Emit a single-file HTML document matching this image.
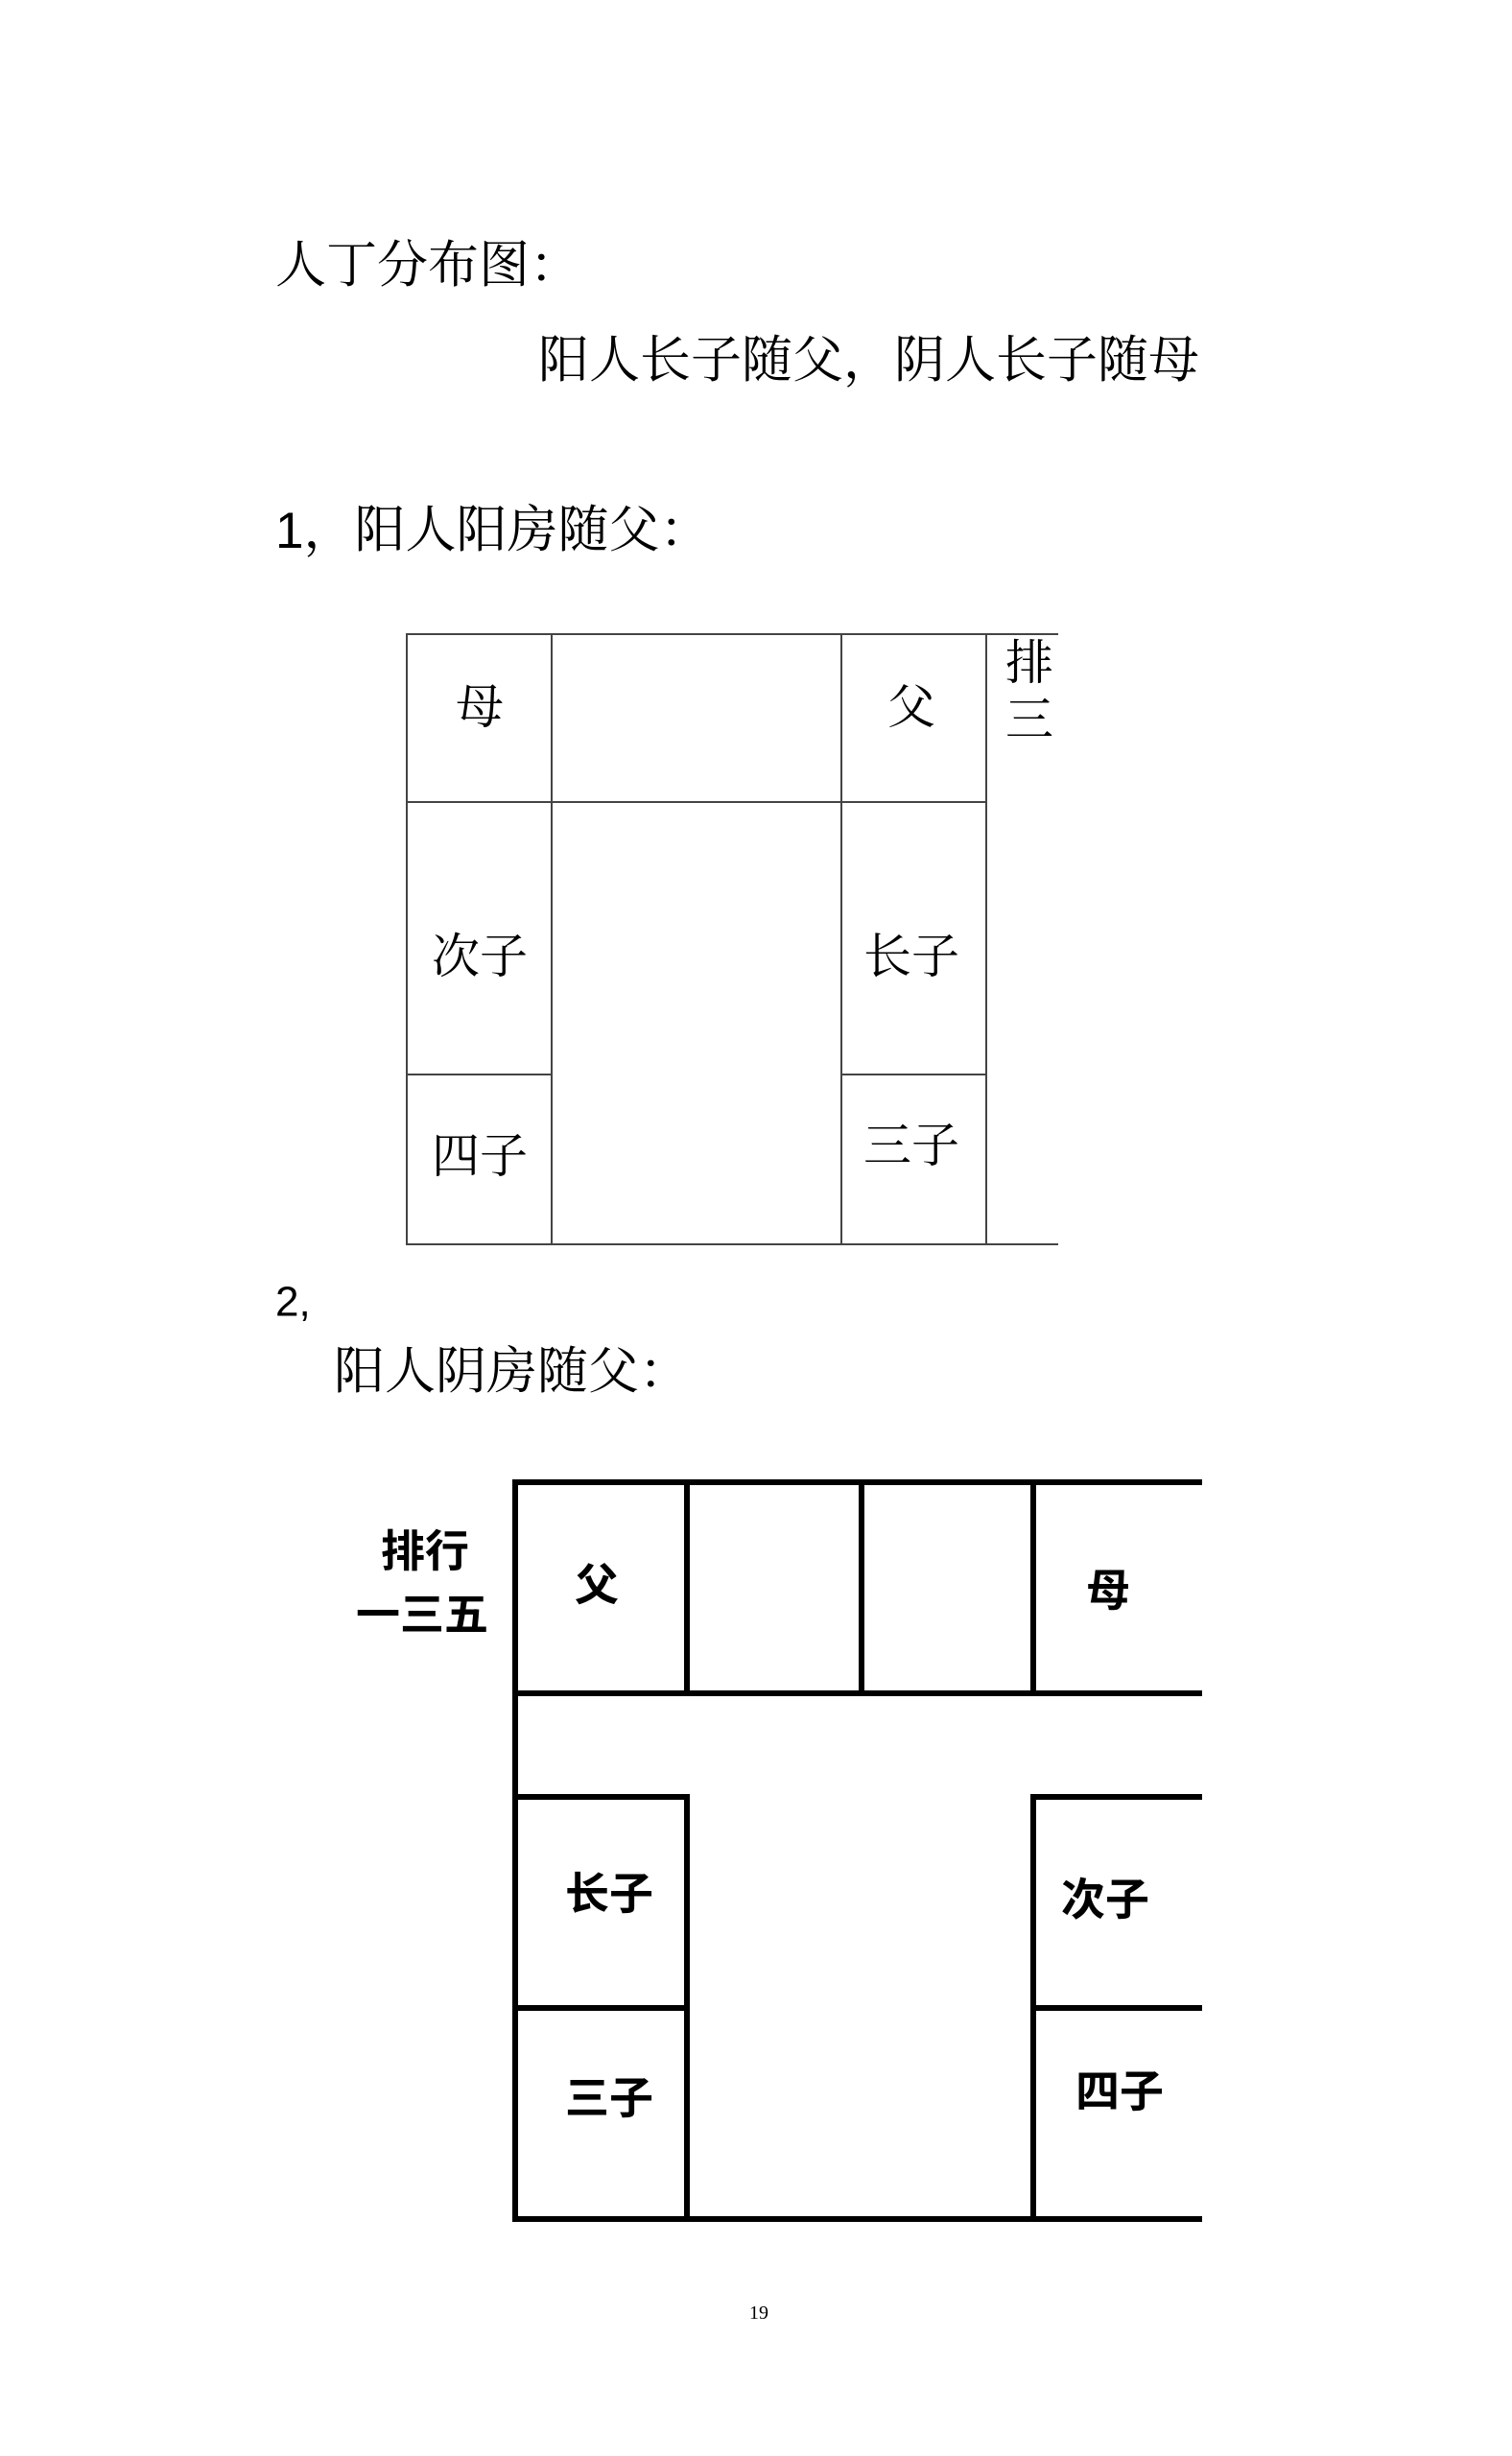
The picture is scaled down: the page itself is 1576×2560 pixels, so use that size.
<!DOCTYPE html>
<html><head><meta charset="utf-8"><style>
html,body{margin:0;padding:0;background:#fff;}
svg{display:block;}
</style></head><body>
<svg width="1576" height="2560" viewBox="0 0 1576 2560" xmlns="http://www.w3.org/2000/svg">
<defs><clipPath id="c1"><rect x="0" y="0" width="1102" height="2560"/></clipPath></defs>
<g font-family="'Liberation Serif','Noto Serif CJK SC',serif" fill="#000" font-size="53">
<text x="287" y="277" dominant-baseline="central">人丁分布图：</text>
<text x="561" y="376" dominant-baseline="central">阳人长子随父，阴人长子随母</text>
<text x="287" y="553" dominant-baseline="central"><tspan font-family="'Liberation Sans','Noto Sans CJK SC',sans-serif">1</tspan>，阳人阳房随父：</text>
<text x="287" y="1357" dominant-baseline="central" font-family="'Liberation Sans',sans-serif" font-size="44">2,</text>
<text x="348" y="1430" dominant-baseline="central">阳人阴房随父：</text>
<text x="791" y="2411" text-anchor="middle" dominant-baseline="central" font-size="20">19</text>
</g>
<!-- table 1 -->
<g stroke="#444" stroke-width="2" fill="none">
<line x1="423" y1="661" x2="1103" y2="661"/>
<line x1="423" y1="1297" x2="1103" y2="1297"/>
<line x1="424" y1="661" x2="424" y2="1297"/>
<line x1="575" y1="661" x2="575" y2="1297"/>
<line x1="877" y1="661" x2="877" y2="1297"/>
<line x1="1028" y1="661" x2="1028" y2="1297"/>
<line x1="423" y1="836" x2="1028" y2="836"/>
<line x1="423" y1="1120" x2="575" y2="1120"/>
<line x1="877" y1="1120" x2="1028" y2="1120"/>
</g>
<g font-family="'Liberation Serif','Noto Serif CJK SC',serif" font-size="50" fill="#000" text-anchor="middle" dominant-baseline="central">
<text x="500" y="737">母</text>
<text x="950" y="737">父</text>
<text x="500" y="997">次子</text>
<text x="950" y="997">长子</text>
<text x="500" y="1205">四子</text>
<text x="950" y="1194">三子</text>
<g clip-path="url(#c1)"><text x="1073" y="691">排</text><text x="1073" y="750">三</text></g>
</g>
<!-- table 2 -->
<g stroke="#000" stroke-width="6" fill="none" stroke-linecap="square">
<line x1="537" y1="1545" x2="1250" y2="1545"/>
<line x1="537" y1="1765" x2="1250" y2="1765"/>
<line x1="537" y1="1545" x2="537" y2="2313"/>
<line x1="537" y1="2313" x2="1250" y2="2313"/>
<line x1="716" y1="1545" x2="716" y2="1765"/>
<line x1="898" y1="1545" x2="898" y2="1765"/>
<line x1="1077" y1="1545" x2="1077" y2="1765"/>
<line x1="537" y1="1873" x2="716" y2="1873"/>
<line x1="716" y1="1873" x2="716" y2="2313"/>
<line x1="537" y1="2093" x2="716" y2="2093"/>
<line x1="1077" y1="1873" x2="1250" y2="1873"/>
<line x1="1077" y1="1873" x2="1077" y2="2313"/>
<line x1="1077" y1="2093" x2="1250" y2="2093"/>
</g>
<g font-family="'Liberation Sans','Noto Sans CJK SC',sans-serif" font-weight="bold" font-size="46" fill="#000" text-anchor="middle" dominant-baseline="central">
<text x="443" y="1617">排行</text>
<text x="440" y="1683">一三五</text>
<text x="622" y="1652">父</text>
<text x="1155" y="1658">母</text>
<text x="635" y="1974">长子</text>
<text x="1152" y="1980">次子</text>
<text x="635" y="2187">三子</text>
<text x="1167" y="2180">四子</text>
</g>
</svg>
</body></html>
